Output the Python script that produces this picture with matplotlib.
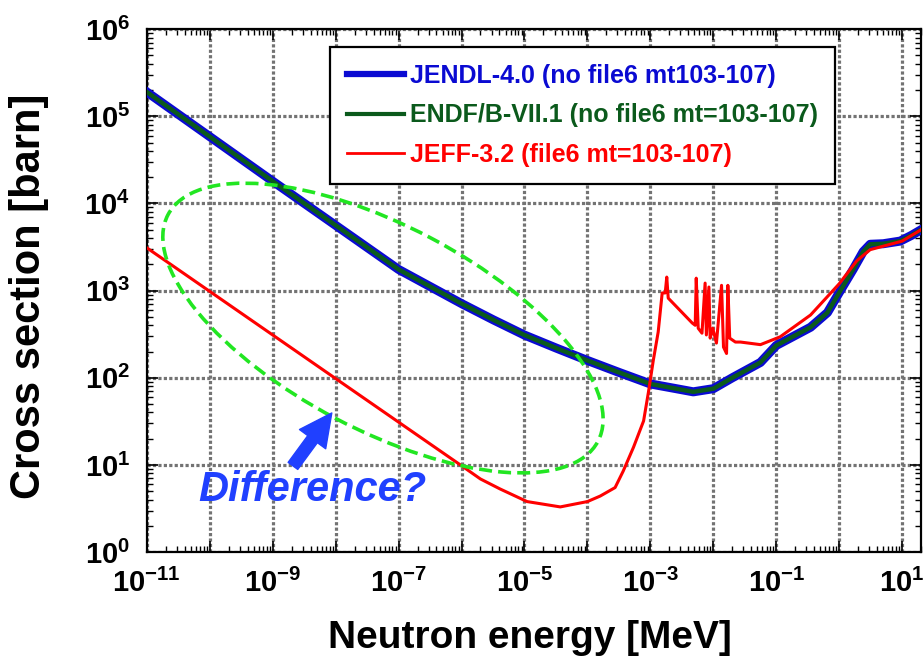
import numpy as np
import matplotlib
matplotlib.use('Agg')
import matplotlib.pyplot as plt
from matplotlib.patches import Ellipse
from matplotlib.transforms import ScaledTranslation
from matplotlib.ticker import LogLocator, FuncFormatter, NullFormatter

plt.rcParams['font.family'] = 'Liberation Sans'
plt.rcParams['font.weight'] = 'bold'

# JENDL-4.0 (energy in MeV, cross section in barn)
jendl_energy = [1.0e-11, 1.0e-9, 1.0e-7, 1.0e-6, 3.2e-6, 1.0e-5, 3.2e-5, 1.0e-4,
                3.2e-4, 1.0e-3, 4.8e-3, 1.0e-2, 2.0e-2, 5.6e-2, 0.1, 0.35, 0.65, 1.0,
                1.66, 2.4, 3.1, 5.0, 9.3, 14.0, 20.0]
jendl_xs = [1.9e5, 1.8e4, 1.75e3, 710, 462, 309, 219, 158,
            115, 85, 69, 75, 100, 150, 235, 380, 560, 950,
            1750, 2800, 3400, 3450, 3700, 4300, 5000]

# ENDF/B-VII.1 (lies on top of JENDL-4.0)
endf_energy = [1.0e-11, 1.0e-9, 1.0e-7, 1.0e-6, 3.2e-6, 1.0e-5, 3.2e-5, 1.0e-4,
               3.2e-4, 1.0e-3, 4.8e-3, 1.0e-2, 2.0e-2, 5.6e-2, 0.1, 0.35, 0.65, 1.0,
               1.66, 2.4, 3.1, 5.0, 9.3, 14.0, 20.0]
endf_xs = [1.9e5, 1.8e4, 1.75e3, 710, 462, 309, 219, 158,
           115, 85, 69, 75, 100, 150, 235, 380, 560, 950,
           1750, 2800, 3400, 3450, 3700, 4300, 5000]

# JEFF-3.2
jeff_energy = [1.0e-11, 1.0e-8, 1.0e-6, 2.0e-6, 4.1e-6, 1.1e-5, 3.7e-5, 1.0e-4,
               1.6e-4, 2.75e-4, 3.7e-4, 5.4e-4, 7.8e-4, 9.3e-4, 1.02e-3, 1.11e-3,
               1.33e-3, 1.54e-3, 1.72e-3, 1.82e-3, 1.92e-3, 4.62e-3, 5.15e-3,
               5.35e-3, 5.75e-3, 6.6e-3, 7.4e-3, 7.75e-3, 8.5e-3, 8.9e-3, 9.8e-3,
               1.12e-2, 1.35e-2, 1.45e-2, 1.62e-2, 1.70e-2, 1.82e-2, 2.24e-2,
               2.7e-2, 5.6e-2, 0.115, 0.35, 1.0, 1.9, 3.1, 10.0, 20.0]
jeff_xs = [3100, 98, 9.8, 6.9, 5.3, 3.8, 3.3, 3.8,
           4.4, 5.5, 8.5, 16, 32, 68, 105, 157,
           335, 940, 940, 1430, 820, 425, 400,
           1390, 370, 325, 1220, 310, 1100, 285, 370,
           250, 1150, 225, 190, 1150, 285, 257,
           257, 240, 295, 525, 1200, 2200, 2950, 3700, 5000]

fig = plt.figure(figsize=(9.23, 6.62), dpi=100)
ax = fig.add_axes([0.159, 0.166, 0.839, 0.790])

ax.plot(jendl_energy, jendl_xs, color='#0a0ad2', lw=6.5, label='JENDL-4.0 (no file6 mt103-107)', zorder=3)
ax.plot(endf_energy, endf_xs, color='#0b5a1c', lw=3.2, label='ENDF/B-VII.1 (no file6 mt=103-107)', zorder=4)
ax.plot(jeff_energy, jeff_xs, color='#ff0000', lw=2.2, label='JEFF-3.2 (file6 mt=103-107)', zorder=5)

ax.set_xscale('log')
ax.set_yscale('log')
ax.set_xlim(1e-11, 20)
ax.set_ylim(1, 1e6)

ax.xaxis.set_major_locator(LogLocator(base=10, numticks=30))
ax.xaxis.set_minor_locator(LogLocator(base=10, subs=np.arange(2, 10), numticks=300))
ax.xaxis.set_minor_formatter(NullFormatter())


def xfmt(v, pos):
    # label every second decade only
    e = int(round(np.log10(v)))
    if e % 2 != 0:
        return r'$\mathdefault{10^{%d}}$' % e
    return ''


ax.xaxis.set_major_formatter(FuncFormatter(xfmt))
ax.yaxis.set_major_locator(LogLocator(base=10, numticks=30))
ax.yaxis.set_minor_locator(LogLocator(base=10, subs=np.arange(2, 10), numticks=300))
ax.yaxis.set_minor_formatter(NullFormatter())

ax.tick_params(which='both', direction='in', top=True, right=True)
ax.tick_params(which='major', length=8, width=1.2, labelsize=21,
               labelfontfamily=['Liberation Sans Narrow', 'Liberation Sans'])
ax.tick_params(which='minor', length=4, width=1)
ax.tick_params(axis='x', which='major', pad=12)
ax.tick_params(axis='y', which='major', pad=12)

ax.grid(True, which='major', color='0.45', linestyle=(0, (1, 0.7)), linewidth=2.3, zorder=1)
ax.set_axisbelow(True)
for sp in ax.spines.values():
    sp.set_linewidth(1.6)

ax.set_xlabel('Neutron energy [MeV]', fontsize=28, fontweight='bold')
ax.set_ylabel('Cross section [barn]', fontsize=30, fontweight='bold')
ax.xaxis.set_label_coords(0.495, -0.13)
ax.yaxis.set_label_coords(-0.126, 0.49)

leg = ax.legend(loc='upper left', bbox_to_anchor=(0.236, 0.966), fontsize=18,
                frameon=True, fancybox=False, framealpha=1, edgecolor='black',
                handlelength=2.3, handletextpad=0.25, labelspacing=0.62,
                borderpad=0.68, borderaxespad=0)
leg.get_frame().set_linewidth(1.6)
for line, text, lw in zip(leg.get_lines(), leg.get_texts(), [4.5, 3.0, 2.0]):
    line.set_linewidth(lw)
    text.set_color(line.get_color())
leg.set_zorder(6)

# dashed ellipse around the low-energy region (size in inches, centred on a data point)
ell = Ellipse((0, 0), width=4.86, height=2.04, angle=-27.8, fill=False,
              edgecolor='#22e622', lw=2.6, linestyle=(0, (3.6, 1.7)),
              transform=fig.dpi_scale_trans + ScaledTranslation(5.65e-8, 372, ax.transData),
              zorder=6)
ax.add_patch(ell)

ax.annotate('', xy=(8.7e-9, 39.5), xytext=(2.1e-9, 9.75),
            arrowprops=dict(arrowstyle='simple,head_length=0.9,head_width=0.9,tail_width=0.33',
                            color='#2040ff', mutation_scale=26, shrinkA=0, shrinkB=0),
            zorder=7)
ax.text(4.3e-9, 5.2, 'Difference?', ha='center', va='center', color='#2040ff',
        fontsize=30, fontweight='bold', fontstyle='italic', zorder=7)

fig.savefig('out.png', dpi=100)
